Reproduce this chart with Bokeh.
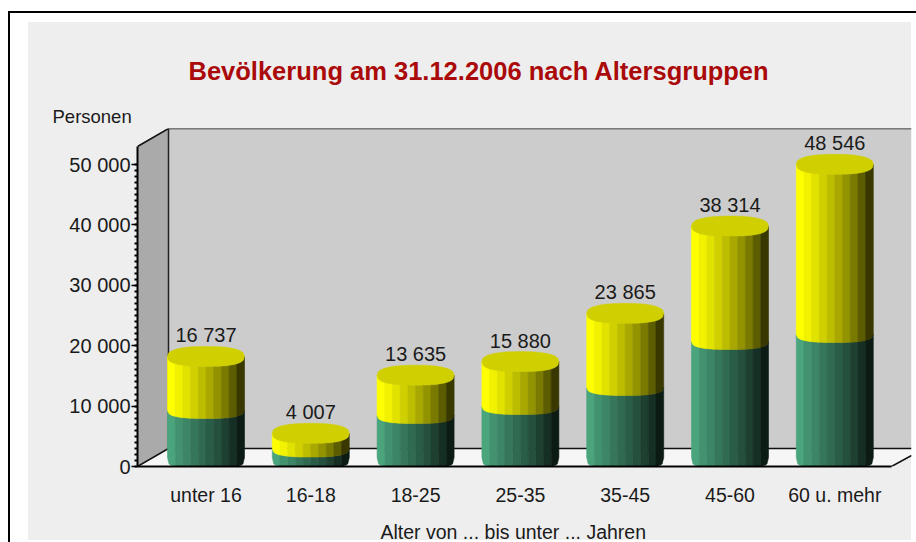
from bokeh.plotting import figure
from bokeh.models import (ColumnDataSource, FixedTicker, LinearAxis, Range1d, Title)
from bokeh.core.properties import value
from bokeh.embed import file_html
from bokeh.resources import INLINE
import numpy as np

# ---- data ----
categories = ["unter 16", "16-18", "18-25", "25-35", "35-45", "45-60", "60 u. mehr"]
total_labels = ["16 737", "4 007", "13 635", "15 880", "23 865", "38 314", "48 546"]
totals = [16737, 4007, 13635, 15880, 23865, 38314, 48546]
lower_part = [7780, 1400, 6950, 8440, 11590, 19200, 20360]
y_major = [0, 10000, 20000, 30000, 40000, 50000]
y_labels = ["0", "10 000", "20 000", "30 000", "40 000", "50 000"]
title_text = "Bevölkerung am 31.12.2006 nach Altersgruppen"
x_title = "Alter von ... bis unter ... Jahren"
y_title = "Personen"

# ---- styles ----
yellows = ["#ffff00", "#f2f200", "#e2e200", "#d0d000", "#bdbd00",
           "#a8a800", "#939300", "#7a7a00", "#5c5c00", "#383800"]
greens = ["#4aa47c", "#429270", "#3c8566", "#36775b", "#306a51",
          "#2a5d47", "#24503d", "#1d4031", "#152f24", "#0c1c15"]
TOP = "#d0d000"
FONT = "Liberation Sans"

# ---- geometry: page pixels to data units ----
FRAME_L, FRAME_R, FRAME_T, FRAME_B = 137, 911, 128, 466
PX_PER_UNIT = 302 / 50000
PX_PER_CAT = 104.8
C0 = 205.5
x0 = (FRAME_L - C0) / PX_PER_CAT
x1 = (FRAME_R - C0) / PX_PER_CAT
y1 = (FRAME_B - FRAME_T) / PX_PER_UNIT
dx = lambda px: px / PX_PER_CAT
dy = lambda px: px / PX_PER_UNIT

p = figure(width=916, height=542, toolbar_location=None, output_backend="svg",
           x_range=Range1d(x0, x1), y_range=Range1d(0, y1),
           frame_width=FRAME_R - FRAME_L, frame_height=FRAME_B - FRAME_T,
           min_border_left=FRAME_L, min_border_right=916 - FRAME_R,
           min_border_top=FRAME_T, min_border_bottom=542 - FRAME_B,
           x_axis_type=None, y_axis_type=None,
           border_fill_color=None, background_fill_color=None,
           outline_line_color=None)
p.grid.visible = False


def rect(x, y, w, h, col):
    return f"linear-gradient({col},{col}) {x}px {y}px/{w}px {h}px no-repeat"


# page furniture behind the canvas: frame lines and grey panel
p.styles = {"background": ",".join([
    rect(8, 11, 908, 2, "#000"),
    rect(8, 11, 2, 531, "#000"),
    rect(28, 22, 883, 518, "#eeeeee"),
]) + ",#fff", "overflow": "hidden"}

# 3D box
depth_x = dx(31)
depth_y = dy(18)
back_x = x0 + depth_x
front_r = x1 - dx(20)
top_front = dy(FRAME_B - 146)

p.patch([back_x, x1, x1, back_x], [depth_y, depth_y, y1, y1],
        fill_color="#cccccc", line_color=None)
p.patch([x0, back_x, x1, x1, front_r], [0, depth_y, depth_y, dy(11), 0],
        fill_color="#f6f6f6", line_color=None)
p.patch([x0, back_x, back_x, x0], [0, depth_y, y1, top_front],
        fill_color="#aaaaaa", line_color=None)
p.line([x0, back_x, x1], [top_front, y1, y1], line_color="#111111", line_width=1.5)
p.line([back_x, back_x], [depth_y, y1], line_color="#222222", line_width=1.5)
p.line([x0, back_x, x1], [0, depth_y, depth_y], line_color="#111111", line_width=1.5)
p.line([front_r, x1], [0, dy(11)], line_color="#111111", line_width=1.5)

# cylinders
half_w = dx(38.5)
ell_h = dy(10)
base = dy(9)


def bulge(t, n=2.4, h=1.0):
    return h * ell_h * np.clip(1 - np.abs(t) ** n, 0, 1) ** (1 / n)


xs, ys, cols = [], [], []
edges = np.linspace(-1, 1, len(yellows) + 1)
for i, (tot, low) in enumerate(zip(totals, lower_part)):
    for lo, hi, ramp in ((0, low, greens), (low, tot, yellows)):
        for j, col in enumerate(ramp):
            t = np.linspace(edges[j], edges[j + 1], 6)
            top = base + hi - bulge(t, 2.6, 0.8 if hi == low else 1.0)
            bot = (base - bulge(t, 4.2)) if lo == 0 else (base + lo - bulge(t, 2.6, 0.8))
            xs.append(list(i + t * half_w) + list(i + t[::-1] * half_w))
            ys.append(list(top) + list(bot[::-1]))
            cols.append(col)
p.patches(xs="xs", ys="ys", fill_color="cols", line_color="cols", line_width=0.6,
          source=ColumnDataSource(dict(xs=xs, ys=ys, cols=cols)))

t = np.linspace(-1, 1, 81)
tx, ty = [], []
for i, tot in enumerate(totals):
    tx.append(list(i + t * half_w) + list(i + t[::-1] * half_w))
    ty.append(list(base + tot + bulge(t)) + list(base + tot - bulge(t[::-1], 2.6)))
p.patches(tx, ty, fill_color=TOP, line_color=TOP, line_width=0.5)

# value labels
p.text(x=list(range(len(totals))), y=[base + v for v in totals], text=total_labels,
       text_font=value(FONT), text_font_size="20px", text_color="#1a1a1a",
       text_align="center", text_baseline="middle", y_offset=-21)

# axes
xaxis = LinearAxis(ticker=FixedTicker(ticks=list(range(len(categories)))),
                   major_label_overrides=dict(enumerate(categories)),
                   bounds=(x0, x1 - dx(20)))
xaxis.major_tick_line_color = None
xaxis.minor_tick_line_color = None
xaxis.axis_line_color = "#000000"
xaxis.axis_line_width = 2
xaxis.major_label_standoff = 11
xaxis.major_label_text_font = FONT
xaxis.major_label_text_font_size = "19.5px"
xaxis.major_label_text_color = "#1a1a1a"
p.add_layout(xaxis, "below")

minor = [v for v in range(0, y_major[-1] + 1, 1000)]
yaxis = LinearAxis(ticker=FixedTicker(ticks=y_major, minor_ticks=minor),
                   major_label_overrides=dict(zip(y_major, y_labels)),
                   bounds=(0, top_front))
yaxis.axis_line_color = "#000000"
yaxis.axis_line_width = 2
yaxis.major_tick_in = 0
yaxis.major_tick_out = 6
yaxis.major_tick_line_width = 1.5
yaxis.minor_tick_in = 0
yaxis.minor_tick_out = 3
yaxis.minor_tick_line_width = 2
yaxis.major_label_standoff = 1
yaxis.major_label_text_font = FONT
yaxis.major_label_text_font_size = "20px"
yaxis.major_label_text_color = "#1a1a1a"
p.add_layout(yaxis, "left")

# texts
p.title.text = title_text
p.title.text_font = FONT
p.title.text_font_size = "25.5px"
p.title.text_font_style = "bold"
p.title.text_color = "#aa0a0a"
p.title.align = "left"
p.title.offset = 51
p.title.standoff = 36

p.add_layout(Title(text=y_title, align="left", offset=52 - FRAME_L, standoff=3,
                   text_font=FONT, text_font_size="18.5px", text_font_style="normal",
                   text_color="#1a1a1a"), "above")
p.add_layout(Title(text=x_title, align="left", offset=380 - FRAME_L, standoff=24,
                   vertical_align="top",
                   text_font=FONT, text_font_size="19.5px", text_font_style="normal",
                   text_color="#1a1a1a"), "below")

open("out.html", "w").write(file_html(p, INLINE))
